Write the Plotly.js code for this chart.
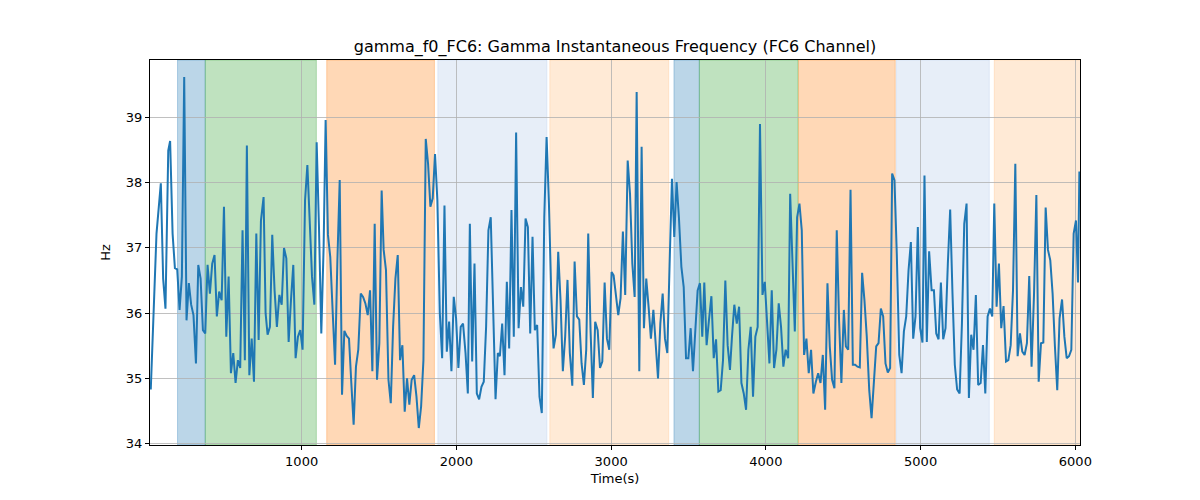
<!DOCTYPE html>
<html>
<head>
<meta charset="utf-8">
<script src="https://cdn.plot.ly/plotly-3.0.1.min.js"></script>
<style>html,body{margin:0;padding:0;background:#fff}#chart{width:1200px;height:500px}</style>
</head>
<body>
<div id="chart"></div>
<script>
const timeS = [25,51,62,90,105,120,138,150,166,181,196,211,226,241,256,271,286,301,317,332,347,362,377,392,407,422,437,452,467,483,498,513,528,543,558,573,588,603,618,633,646,662,677,692,707,722,737,754,767,780,795,810,825,840,856,871,886,901,916,931,946,961,976,991,1006,1022,1037,1052,1067,1082,1097,1112,1127,1142,1155,1170,1185,1201,1216,1231,1246,1261,1276,1291,1306,1321,1336,1351,1366,1382,1397,1412,1427,1442,1457,1472,1487,1502,1517,1530,1545,1561,1576,1591,1606,1621,1636,1651,1666,1681,1696,1711,1727,1742,1757,1772,1787,1802,1817,1832,1847,1862,1877,1893,1908,1923,1938,1953,1968,1983,1998,2013,2028,2043,2059,2074,2087,2102,2117,2132,2147,2162,2177,2192,2207,2222,2237,2253,2268,2281,2296,2311,2326,2341,2356,2371,2386,2402,2417,2432,2447,2462,2477,2492,2507,2522,2537,2552,2568,2583,2598,2613,2628,2643,2658,2673,2688,2703,2718,2733,2749,2764,2779,2794,2809,2824,2839,2852,2867,2882,2897,2913,2928,2943,2958,2973,2988,3003,3016,3031,3046,3061,3076,3091,3107,3122,3137,3152,3165,3182,3197,3212,3227,3242,3257,3273,3288,3303,3318,3333,3348,3363,3378,3393,3408,3423,3438,3454,3469,3484,3499,3514,3529,3544,3559,3574,3589,3602,3617,3632,3648,3663,3678,3693,3708,3723,3738,3753,3768,3781,3796,3812,3827,3842,3857,3872,3887,3902,3917,3932,3947,3962,3978,3993,4008,4023,4038,4053,4068,4083,4098,4113,4128,4144,4157,4172,4187,4202,4217,4232,4247,4262,4277,4292,4307,4323,4338,4353,4368,4383,4398,4413,4428,4443,4458,4473,4488,4504,4517,4532,4547,4562,4577,4592,4607,4622,4637,4652,4668,4683,4698,4713,4728,4743,4758,4773,4788,4803,4816,4831,4846,4862,4877,4892,4907,4922,4937,4952,4967,4982,4997,5012,5025,5040,5055,5071,5086,5101,5116,5131,5146,5161,5176,5191,5206,5221,5236,5252,5267,5282,5297,5312,5327,5342,5357,5372,5388,5403,5418,5433,5448,5463,5476,5491,5506,5521,5536,5552,5567,5582,5597,5612,5627,5642,5657,5672,5687,5702,5717,5733,5748,5763,5778,5793,5808,5823,5838,5853,5868,5883,5898,5914,5929,5944,5959,5974,5989,6004,6017,6026];
const freqHz = [34.83,36.56,37.22,37.99,36.53,36.07,38.49,38.64,37.22,36.69,36.67,36.05,36.56,39.62,35.89,36.46,36.13,35.97,35.23,36.74,36.53,35.74,35.69,36.74,36.3,36.76,36.89,35.95,36.33,36.2,37.63,35.64,36.56,35.08,35.39,34.93,35.28,35.16,37.27,35.28,38.57,35.05,35.61,34.95,37.22,35.59,37.42,37.78,36.0,35.67,35.79,37.2,36.35,35.79,36.28,36.13,37.0,36.84,35.56,36.2,36.74,35.31,35.64,35.74,35.44,37.73,38.27,37.42,36.56,36.13,38.62,37.32,35.69,37.02,38.96,37.2,36.86,36.0,35.21,36.81,38.04,34.75,35.73,35.65,35.61,34.93,34.29,35.18,35.44,36.3,36.25,36.15,35.97,36.35,35.11,37.37,34.98,35.54,37.88,36.97,36.66,34.98,34.62,35.79,36.53,36.89,35.28,35.51,34.49,35.0,34.6,34.98,35.05,34.72,34.24,34.57,35.28,38.67,38.29,37.63,37.76,38.44,37.73,36.0,35.31,37.65,35.41,35.87,35.11,36.25,35.92,35.16,35.79,35.84,35.39,34.77,37.37,35.26,36.76,34.77,34.68,34.87,34.95,35.79,37.27,37.47,35.89,34.68,35.39,35.34,35.84,35.05,36.48,35.46,37.58,35.64,38.77,35.77,36.4,36.1,37.45,37.32,35.69,37.17,35.74,35.82,34.72,34.47,37.47,38.7,37.68,36.3,35.46,35.67,36.94,36.2,35.11,35.64,36.51,35.39,34.89,36.79,35.95,35.9,35.23,34.9,35.44,37.22,35.74,34.7,35.87,35.74,35.16,35.26,36.47,35.61,35.44,36.63,36.58,36.3,35.97,36.23,37.25,36.28,38.34,37.83,36.76,36.25,39.39,35.11,38.55,35.77,36.53,36.1,35.61,36.05,35.44,35.0,35.84,36.3,35.61,35.39,36.76,38.06,37.17,38.01,37.47,36.71,36.4,35.31,35.31,35.77,35.11,35.79,36.35,36.46,35.64,36.47,35.51,35.89,36.26,35.31,35.6,34.8,34.82,35.28,36.5,35.51,35.13,35.64,36.13,35.84,36.1,34.93,34.77,34.52,35.44,35.79,34.72,35.64,35.79,38.9,36.28,36.48,35.74,35.23,36.35,35.16,35.44,36.15,35.79,35.18,35.44,35.31,37.83,36.61,35.72,37.47,37.68,37.27,35.36,35.61,35.08,35.44,34.77,34.95,35.08,34.93,35.36,34.52,36.46,35.49,34.98,34.85,37.27,35.89,34.93,36.05,35.49,35.44,37.89,35.21,35.21,35.18,35.17,36.62,36.2,35.64,34.82,34.39,34.93,35.49,35.54,36.07,35.95,35.23,35.09,35.16,38.14,38.04,36.91,35.36,35.08,35.72,35.95,36.66,37.09,35.61,35.95,37.32,35.77,35.55,38.11,35.56,36.95,36.35,36.35,35.69,35.6,36.47,35.6,35.77,36.76,37.59,36.3,35.21,34.83,34.77,35.84,37.37,37.68,34.7,35.67,35.44,36.28,34.9,34.93,35.51,34.77,35.95,36.07,35.95,37.68,36.1,36.76,35.77,36.11,35.26,35.28,35.51,36.35,38.29,35.34,35.69,35.41,35.36,35.54,36.57,35.18,36.3,37.81,34.95,35.54,35.55,37.62,36.97,36.81,36.3,35.49,34.82,35.92,36.21,35.64,35.31,35.34,35.44,37.22,37.42,36.47,38.17];

// shaded phase intervals (time in s) and their phase kind
const spanStart = [198, 377, 1162, 1880, 2604, 3406, 3570, 4211, 4842, 5476];
const spanEnd   = [377, 1095, 1858, 2585, 3372, 3570, 4208, 4836, 5444, 6040];
const spanKind  = [0, 1, 2, 3, 4, 0, 1, 2, 3, 4];

const xTicks = [1000, 2000, 3000, 4000, 5000, 6000];
const yTicks = [34, 35, 36, 37, 38, 39];

const palette = ['rgba(31,119,180,0.3)', 'rgba(44,160,44,0.3)', 'rgba(255,127,14,0.3)', 'rgba(174,199,232,0.3)', 'rgba(255,187,120,0.3)'];

const shapes = spanStart.map((s, i) => ({
  type: 'rect', xref: 'x', yref: 'paper', x0: s, x1: spanEnd[i], y0: 0, y1: 1,
  fillcolor: palette[spanKind[i]], line: {color: palette[spanKind[i]], width: 1}, layer: 'below'
}));

const trace = {
  x: timeS, y: freqHz, type: 'scatter', mode: 'lines',
  line: {color: '#1f77b4', width: 2}, hoverinfo: 'x+y'
};

const axisCommon = {
  showline: true, mirror: true, linecolor: '#000', linewidth: 1,
  ticks: 'outside', ticklen: 4, tickwidth: 1, tickcolor: '#000',
  showgrid: true, gridcolor: '#b0b0b0', gridwidth: 0.8, zeroline: false,
  tickfont: {family: 'DejaVu Sans', size: 13, color: '#000'}
};

const layout = {
  width: 1200, height: 500,
  margin: {l: 150, r: 120, t: 60, b: 55},
  paper_bgcolor: '#fff', plot_bgcolor: '#fff',
  showlegend: false,
  font: {family: 'DejaVu Sans', color: '#000'},
  title: {text: 'gamma_f0_FC6: Gamma Instantaneous Frequency (FC6 Channel)', font: {family: 'DejaVu Sans', size: 16, color: '#000'},
          x: 0.5, xref: 'paper', y: 1 - 46/500, yref: 'container', yanchor: 'middle'},
  xaxis: Object.assign({}, axisCommon, {range: [20, 6030], tickvals: xTicks, ticktext: xTicks.map(String),
          title: {text: 'Time(s)', font: {family: 'DejaVu Sans', size: 13, color: '#000'}, standoff: 6}}),
  yaxis: Object.assign({}, axisCommon, {range: [33.98, 39.88], tickvals: yTicks, ticktext: yTicks.map(String),
          title: {text: 'Hz', font: {family: 'DejaVu Sans', size: 13, color: '#000'}, standoff: 12}}),
  shapes: shapes
};

Plotly.newPlot('chart', [trace], layout, {displayModeBar: false, staticPlot: true});
</script>
</body>
</html>
